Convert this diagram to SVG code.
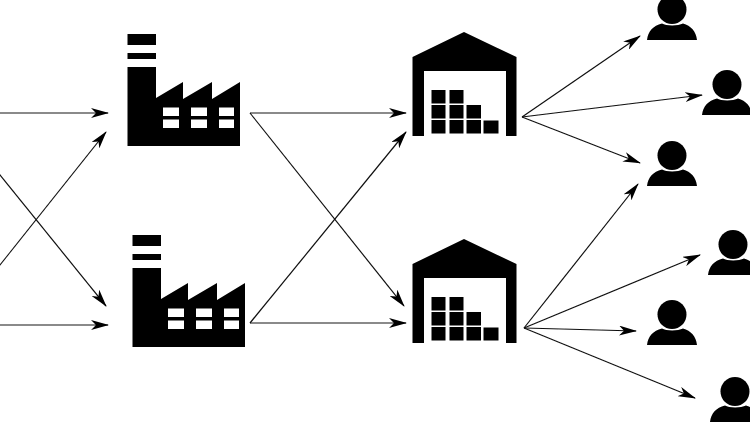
<svg xmlns="http://www.w3.org/2000/svg" width="750" height="422" viewBox="0 0 750 422">
<style>
.c line{stroke:#111;stroke-width:1.2;fill:none;marker-end:url(#a)}
.k{fill:#000}
.w{fill:#fff}
</style>
<defs>
<filter id="b" filterUnits="userSpaceOnUse" x="-20" y="-20" width="800" height="470"><feGaussianBlur stdDeviation="0.65"/></filter>
<marker id="a" viewBox="0 0 18 10" refX="17" refY="5" markerWidth="18" markerHeight="10" markerUnits="userSpaceOnUse" orient="auto"><path d="M0 0L18 5L0 10L5 5Z" fill="#000"/></marker>
<g id="factory">
<rect class="k" x="127.500" y="34" width="28.500" height="11"/>
<rect class="k" x="127.500" y="53" width="28.500" height="6"/>
<path class="k" d="M127.500 67H156V98L183 82V99L212 82V99L240 82V146H127.500Z"/>
<path class="w" d="M163 107.500h16v8.500h-16zM191 107.500h16v8.500h-16zM219 107.500h15v8.500h-15zM163 119.500h16v8.500h-16zM191 119.500h16v8.500h-16zM219 119.500h15v8.500h-15z"/>
</g>
<g id="warehouse">
<path class="k" d="M412.500 57L464 32L516.500 57V136H506V71H424V136H412.500Z"/>
<path class="k" d="M431.500 90h14v13.500h-14zM449.500 90h14v13.500h-14zM431.500 105h14v13.500h-14zM449.500 105h14v13.500h-14zM466.500 105h14.500v13.500h-14.500zM431.500 120h14v13.500h-14zM449.500 120h14v13.500h-14zM466.500 120h14.500v13.500h-14.500zM483.500 120.500h15v13h-15z"/>
</g>
<g id="person">
<circle class="k" cx="672" cy="9.500" r="14.500"/>
<path class="k" d="M647 40C648 31 653 26 662 23.500C666 26 678 26 683 23.500C691 26 696 31 697 40Z"/>
</g>
</defs>
<rect width="750" height="422" fill="#fff"/>
<g filter="url(#b)">
<g id="connectors" class="c">
<line x1="-10" y1="113" x2="108" y2="113"/>
<line x1="-10" y1="325" x2="108" y2="325"/>
<line x1="-10" y1="162.600" x2="106" y2="306"/>
<line x1="-10" y1="277.500" x2="106" y2="132"/>
<line x1="250" y1="113" x2="406" y2="113"/>
<line x1="250" y1="113" x2="404" y2="306"/>
<line x1="250" y1="323" x2="406" y2="132"/>
<line x1="250" y1="323" x2="406" y2="323"/>
<line x1="522" y1="117" x2="640" y2="36"/>
<line x1="522" y1="117" x2="702" y2="95"/>
<line x1="522" y1="117" x2="640" y2="163"/>
<line x1="524" y1="328" x2="638" y2="184"/>
<line x1="524" y1="328" x2="700" y2="255"/>
<line x1="524" y1="328" x2="636" y2="331"/>
<line x1="524" y1="328" x2="695" y2="398"/>
</g>
<g id="factory-1"><use href="#factory"/></g>
<g id="factory-2"><use href="#factory" x="5" y="201"/></g>
<g id="warehouse-1"><use href="#warehouse"/></g>
<g id="warehouse-2"><use href="#warehouse" y="207"/></g>
<g id="customer-1"><use href="#person"/></g>
<g id="customer-2"><use href="#person" x="55" y="75"/></g>
<g id="customer-3"><use href="#person" y="146"/></g>
<g id="customer-4"><use href="#person" x="61" y="235"/></g>
<g id="customer-5"><use href="#person" y="305"/></g>
<g id="customer-6"><use href="#person" x="63" y="382"/></g>
</g>
</svg>
